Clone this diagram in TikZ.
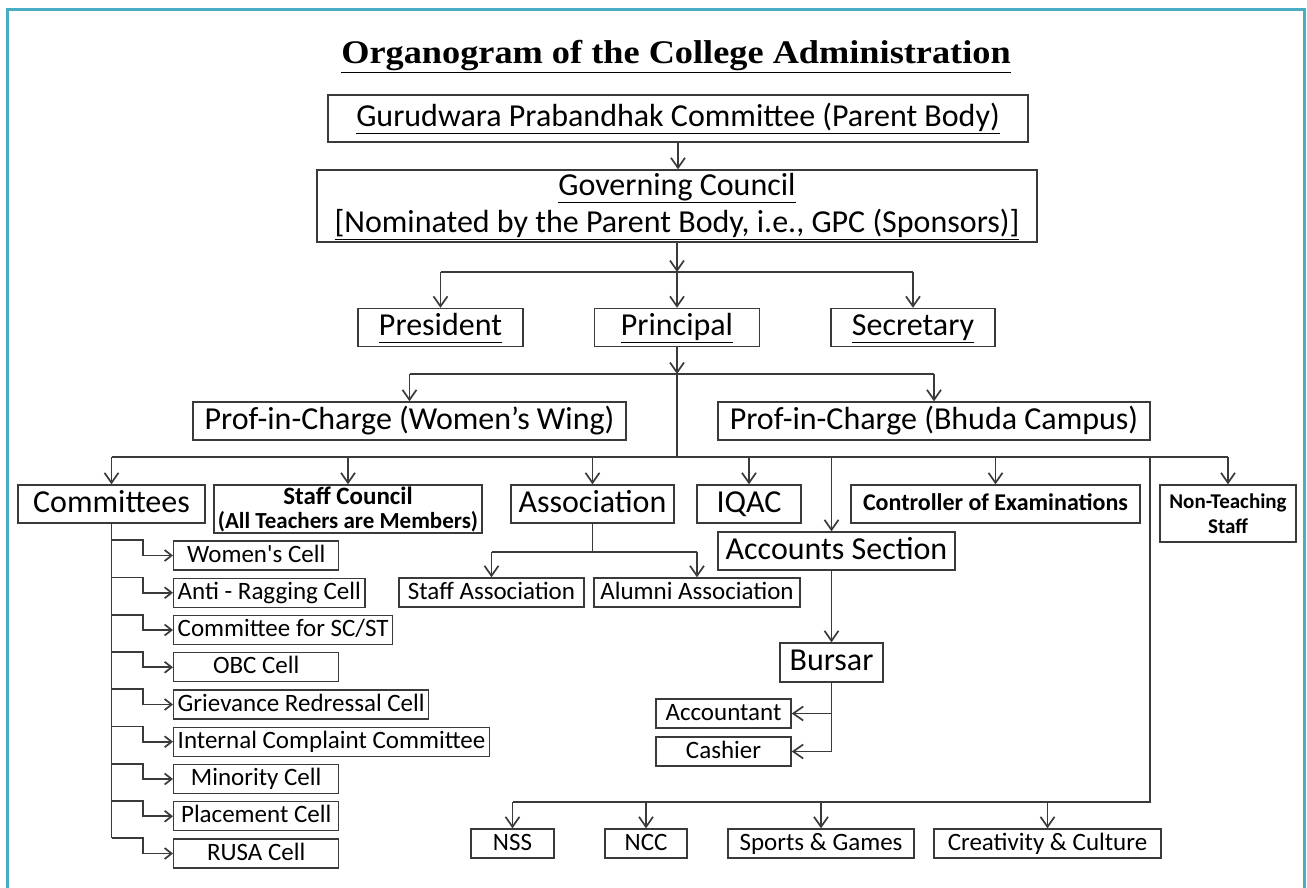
\documentclass[tikz,border=0pt]{standalone}
\usepackage{fontspec}
\usepackage{graphicx}
\setmainfont{Carlito}
\newfontfamily\titlefont{Liberation Serif}
\usetikzlibrary{arrows.meta}
\definecolor{framecol}{HTML}{4BACC6}
\definecolor{linecol}{HTML}{3A3A3A}
\newcommand\sizeL{\fontsize{32}{37}\selectfont}
\newcommand\sizeM{\fontsize{25}{29}\selectfont}
\newcommand\undl[1]{\underline{#1\vphantom{(y}}}

\begin{document}
\begin{tikzpicture}[x=1pt, y=-1pt,
    box/.style={draw=linecol, line width=1.4pt, inner sep=0pt, minimum height=38pt,
      text height=24pt, text depth=8pt, font=\sizeL, text=black},
    multi/.style={text height=, text depth=, align=center},
    sbox/.style={box, minimum height=29pt, text height=19pt, text depth=6pt, font=\sizeM},
    cell/.style={sbox, anchor=west, minimum width=165pt, inner xsep=4pt},
    link/.style={draw=linecol, line width=1.7pt},
    arr/.style={link, -{Straight Barb[length=10pt, width=14pt]}},
    arrS/.style={link, -{Straight Barb[length=7pt, width=11pt]}}]
  \useasboundingbox (0,0) rectangle (1307,887);
  \draw[framecol, line width=3pt] (7,895) |- (1304,9) -- (1304,895);

  \node (title) at (676,57) {\titlefont\bfseries\fontsize{33}{38}\selectfont
    \scalebox{1.1}[1]{\underline{Organogram of the College Administration}}};
  \node[box, minimum width=700pt, minimum height=47pt] (gpc) at (678,118.5)
    {\undl{Gurudwara Prabandhak Committee (Parent Body)}};
  \node[box, multi, minimum width=720pt, minimum height=72pt] (gc) at (677,206)
    {\undl{Governing Council}\\\undl{[Nominated by the Parent Body, i.e., GPC (Sponsors)]}};
  \node[box, minimum width=165pt] (pres) at (440.5,327.5) {\undl{President}};
  \node[box, minimum width=165pt] (prin) at (677,327.5) {\undl{Principal}};
  \node[box, minimum width=164pt] (secy) at (913,327.5) {\undl{Secretary}};
  \node[box, minimum width=433pt] (pw) at (409.5,421) {Prof-in-Charge (Women’s Wing)};
  \node[box, minimum width=432pt] (pb) at (934,421) {Prof-in-Charge (Bhuda Campus)};

  \node[box, minimum width=187pt] (com) at (111.5,504) {Committees};
  \node[box, multi, minimum width=268pt, minimum height=48pt,
    font=\bfseries\fontsize{23}{24}\selectfont] (sc) at (348,509)
    {{\fontsize{25}{25}\selectfont Staff Council}\\(All Teachers are Members)};
  \node[box, minimum width=163pt] (assoc) at (592.5,504) {Association};
  \node[box, minimum width=104pt] (iqac) at (749,504) {IQAC};
  \node[box, minimum width=289pt, text height=18pt, text depth=6pt,
    font=\bfseries\fontsize{24}{26}\selectfont] (coe) at (995.5,504) {Controller of Examinations};
  \node[box, multi, minimum width=136pt, minimum height=57pt,
    font=\bfseries\fontsize{21}{25}\selectfont] (nts) at (1228,513.5) {Non-Teaching\\Staff};
  \node[box, minimum width=237pt] (acc) at (836.5,551) {Accounts Section};
  \node[sbox, minimum width=185pt] (sa) at (491.5,592.5) {Staff Association};
  \node[sbox, minimum width=206pt] (aa) at (697,592.5) {Alumni Association};
  \node[box, minimum width=103pt, minimum height=39pt] (bur) at (831.5,662.5) {Bursar};
  \node[sbox, minimum width=135pt] (acct) at (723.5,713.5) {Accountant};
  \node[sbox, minimum width=135pt] (cash) at (723.5,751.5) {Cashier};
  \node[sbox, minimum width=83pt] (nss) at (512.5,843.5) {NSS};
  \node[sbox, minimum width=82pt] (ncc) at (646,843.5) {NCC};
  \node[sbox, minimum width=186pt] (sg) at (821,843.5) {Sports \& Games};
  \node[sbox, minimum width=227pt] (cc) at (1047.5,843.5) {Creativity \& Culture};

  \foreach \n/\t [count=\i from 0] in {wc/Women\textquotesingle s Cell, arc/Anti - Ragging Cell,
      scst/{Committee for SC/ST}, obc/OBC Cell, grc/Grievance Redressal Cell,
      icc/Internal Complaint Committee, mc/Minority Cell, pc/Placement Cell, rusa/RUSA Cell}
    \node[cell] (\n) at (173,{555.5+37.25*\i}) {\t};

  \draw[arr] (gpc.south) -- (gc.north -| gpc.south);
  \coordinate (b1) at (677,272);
  \draw[arr] (gc.south) -- (b1);
  \draw[link] (b1 -| pres) -- (b1 -| secy);
  \foreach \n in {pres,prin,secy} \draw[arr] (b1 -| \n) -- (\n.north);

  \coordinate (b2) at (677,374);
  \draw[arr] (prin.south) -- (b2);
  \draw[link] (b2 -| pw) -- (b2 -| pb);
  \foreach \n in {pw,pb} \draw[arr] (b2 -| \n) -- (\n.north);

  \coordinate (b3) at (677,457);
  \draw[link] (b2) -- (b3);
  \draw[link] (b3 -| com) -- (b3 -| nts);
  \foreach \n in {com,sc,assoc,iqac,coe,nts} \draw[arr] (b3 -| \n) -- (\n.north);
  \draw[arr] (b3 -| bur) -- (acc.north -| bur);
  \draw[arr] (acc.south -| bur) -- (bur.north);
  \draw[arr] (bur.south) |- (cash.east);
  \draw[arr] (bur.south |- acct.east) -- (acct.east);

  \path (assoc.south) ++(0,28) coordinate (b4);
  \draw[link] (assoc.south) -- (b4);
  \draw[link] (b4 -| sa) -- (b4 -| aa);
  \foreach \n in {sa,aa} \draw[arr] (b4 -| \n) -- (\n.north);

  \coordinate (b5) at (1150,802);
  \draw[link] (b3 -| b5) -- (b5) -- (b5 -| nss);
  \foreach \n in {nss,ncc,sg,cc} \draw[arr] (b5 -| \n) -- (\n.north);

  \draw[link] (com.south) -- (com.south |- rusa.north);
  \foreach \n in {wc,arc,scst,obc,grc,icc,mc,pc,rusa}
    \draw[arrS] (com.south |- \n.north) -- ++(31.5,0) |- (\n.west);
\end{tikzpicture}
\end{document}
